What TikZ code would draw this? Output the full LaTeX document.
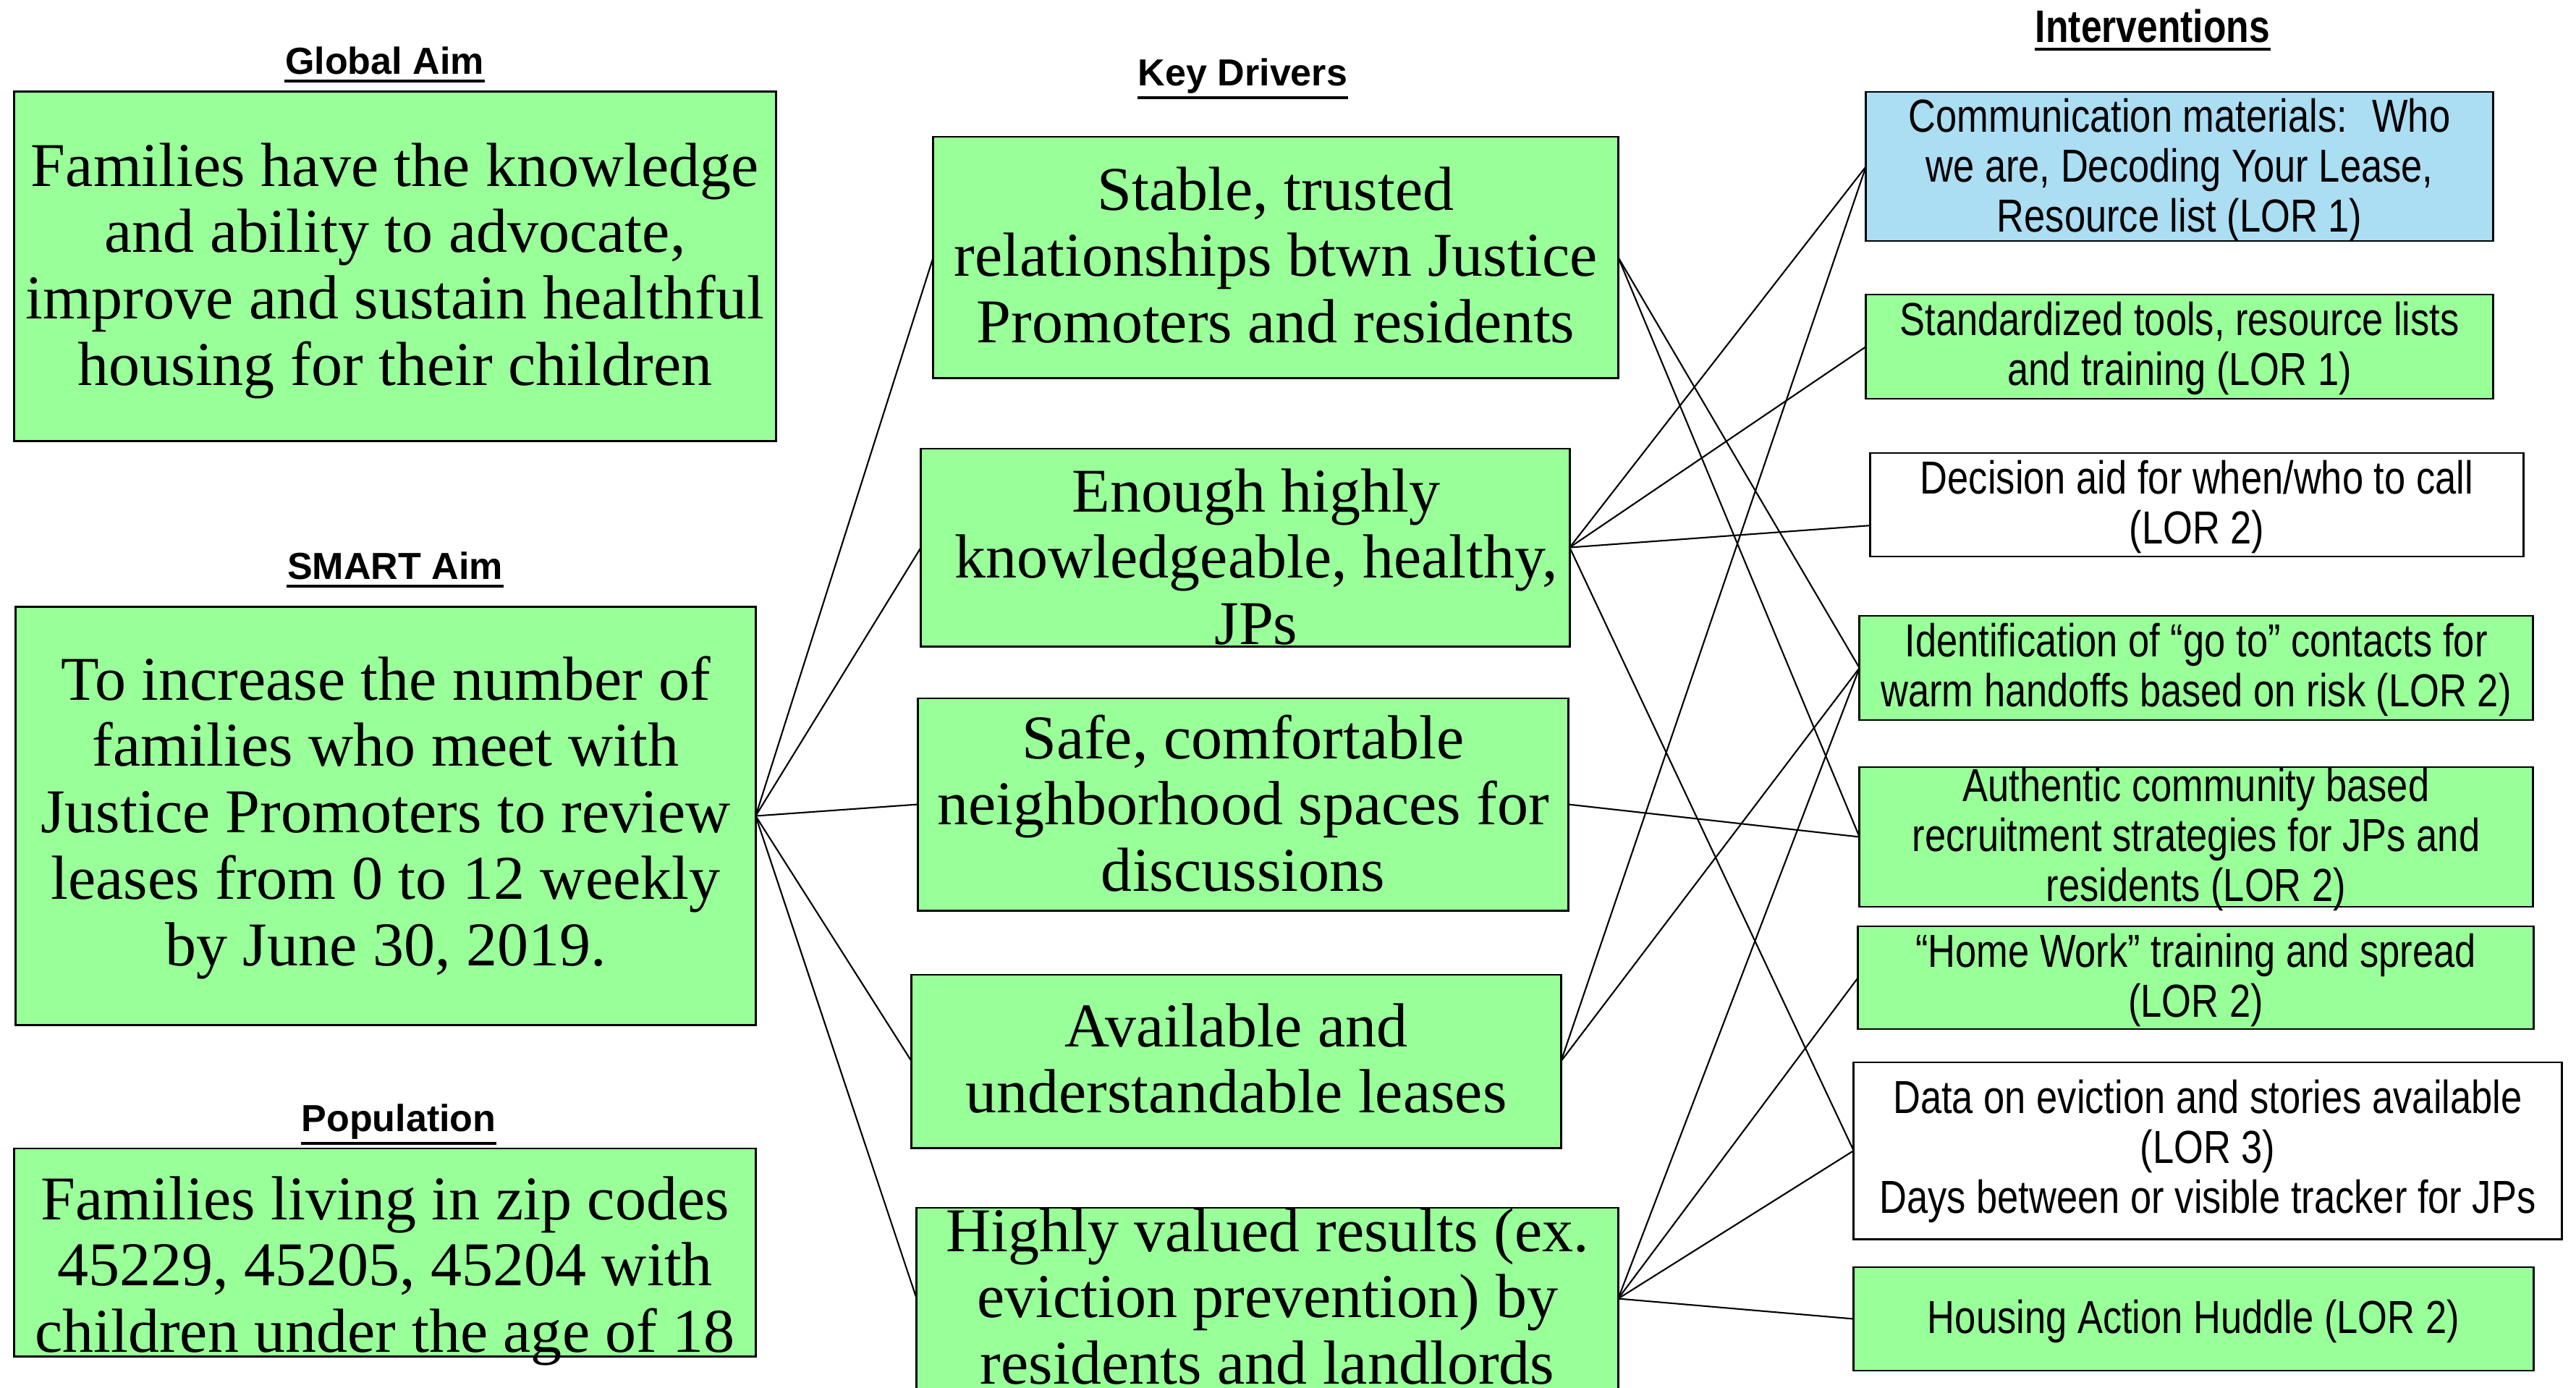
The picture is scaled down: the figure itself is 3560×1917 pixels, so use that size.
\documentclass[tikz,border=0pt]{standalone}
\usepackage{fontspec}
\setmainfont{Liberation Serif}
\newfontfamily\hsans{Liberation Sans}
\newfontfamily\nsans[FakeStretch=0.82]{Liberation Sans}
\usetikzlibrary{calc}
\definecolor{boxgreen}{RGB}{153,255,153}
\definecolor{boxblue}{RGB}{171,221,243}
\newcommand{\ctab}[1]{\begin{tabular}[t]{@{}c@{}}#1\end{tabular}}
\tikzset{
  boxbase/.style={draw=black, line width=0.8pt, inner sep=0pt, outer sep=0pt},
  greenbox/.style={boxbase, fill=boxgreen},
  bluebox/.style={boxbase, fill=boxblue},
  whitebox/.style={boxbase, fill=white},
  serifbody/.style={anchor=base, inner sep=0pt, font=\fontsize{24.47}{26.1}\selectfont},
  sansbody/.style={anchor=base, inner sep=0pt, font=\nsans\fontsize{18.2}{19.63}\selectfont},
  heading/.style={anchor=base, inner sep=0pt, font=\hsans\bfseries\fontsize{14.8}{17}\selectfont},
  narrowheading/.style={anchor=base, inner sep=0pt, font=\nsans\bfseries\fontsize{17.9}{20}\selectfont},
  uline/.style={line width=1.1pt},
  link/.style={line width=0.6pt},
}
\begin{document}
\begin{tikzpicture}[x=0.01cm, y=-0.01cm]
\clip (0,0) rectangle (3560,1917);
\useasboundingbox (0,0) rectangle (3560,1917);
\fill[white] (0,0) rectangle (3560,1917);

% ---- headings
\node[heading] (hglob) at (531.5,102) {Global Aim};
\draw[uline] ([yshift=-0.1cm]hglob.base west) -- ([yshift=-0.1cm]hglob.base east);
\node[heading] (hsmart) at (546,800) {SMART Aim};
\draw[uline] ([yshift=-0.1cm]hsmart.base west) -- ([yshift=-0.1cm]hsmart.base east);
\node[heading] (hpop) at (551,1563) {Population};
\draw[uline] ([yshift=-0.17cm]hpop.base west) -- ([yshift=-0.17cm]hpop.base east);
\node[heading] (hkd) at (1717.5,118) {Key Drivers};
\draw[uline] ([yshift=-0.17cm]hkd.base west) -- ([yshift=-0.17cm]hkd.base east);
\node[narrowheading] (hint) at (2975,58) {Interventions};
\draw[uline] ([yshift=-0.1cm]hint.base west) -- ([yshift=-0.1cm]hint.base east);

% ---- boxes
\node[greenbox, minimum width=10.52cm, minimum height=4.82cm] (glob) at (546,368) {};
\node[greenbox, minimum width=10.22cm, minimum height=5.77cm] (smart) at (533,1127.5) {};
\node[greenbox, minimum width=10.24cm, minimum height=2.87cm] (pop) at (532,1730.5) {};

\node[greenbox, minimum width=9.46cm, minimum height=3.33cm] (kd1) at (1763,355.5) {};
\node[greenbox, minimum width=8.96cm, minimum height=2.73cm] (kd2) at (1721,756.5) {};
\node[greenbox, minimum width=8.98cm, minimum height=2.93cm] (kd3) at (1718,1111.5) {};
\node[greenbox, minimum width=8.97cm, minimum height=2.39cm] (kd4) at (1708.5,1466.5) {};
\node[greenbox, minimum width=9.69cm, minimum height=2.51cm] (kd5) at (1751.5,1794.5) {};

\node[bluebox,  minimum width=8.66cm, minimum height=2.06cm] (comm) at (3012,230) {};
\node[greenbox, minimum width=8.66cm, minimum height=1.44cm] (std) at (3012,479) {};
\node[whitebox, minimum width=9.02cm, minimum height=1.43cm] (dec) at (3036,697.5) {};
\node[greenbox, minimum width=9.30cm, minimum height=1.44cm] (ident) at (3035,923) {};
\node[greenbox, minimum width=9.30cm, minimum height=1.93cm] (auth) at (3035,1156.5) {};
\node[greenbox, minimum width=9.33cm, minimum height=1.42cm] (home) at (3034.5,1351) {};
\node[whitebox, minimum width=9.78cm, minimum height=2.44cm] (data) at (3051,1590) {};
\node[greenbox, minimum width=9.39cm, minimum height=1.43cm] (huddle) at (3031.5,1822.5) {};

% ---- connectors
\draw[link] (smart.east) -- (kd1.west);
\draw[link] (smart.east) -- (kd2.west);
\draw[link] (smart.east) -- (kd3.west);
\draw[link] (smart.east) -- (kd4.west);
\draw[link] (smart.east) -- (kd5.west);

\draw[link] (kd1.east) -- (ident.west);
\draw[link] (kd1.east) -- (auth.west);

\draw[link] (kd2.east) -- (comm.west);
\draw[link] (kd2.east) -- (std.west);
\draw[link] (kd2.east) -- ($(dec.north west)!0.7!(dec.south west)$);
\draw[link] (kd2.east) -- (data.west);

\draw[link] (kd3.east) -- (auth.west);

\draw[link] (kd4.east) -- (comm.west);
\draw[link] (kd4.east) -- (ident.west);

\draw[link] (kd5.east) -- (ident.west);
\draw[link] (kd5.east) -- (home.west);
\draw[link] (kd5.east) -- (data.west);
\draw[link] (kd5.east) -- (huddle.west);

% ---- texts
\node[serifbody] (tglob) at (546,257) {\ctab{Families have the knowledge\\ and ability to advocate,\\ improve and sustain healthful\\ housing for their children}};
\node[serifbody] (tsmart) at (533,967) {\ctab{To increase the number of\\ families who meet with\\ Justice Promoters to review\\ leases from 0 to 12 weekly\\ by June 30, 2019.}};
\node[serifbody] (tpop) at (532,1685) {\ctab{Families living in zip codes\\ 45229, 45205, 45204 with\\ children under the age of 18}};

\node[serifbody] (tkd1) at (1763,290) {\ctab{Stable, trusted\\ relationships btwn Justice\\ Promoters and residents}};
\node[serifbody] (tkd2) at (1736,707) {\ctab{Enough highly\\ knowledgeable, healthy,\\ JPs}};
\node[serifbody] (tkd3) at (1718,1048) {\ctab{Safe, comfortable\\ neighborhood spaces for\\ discussions}};
\node[serifbody] (tkd4) at (1708.5,1446) {\ctab{Available and\\ understandable leases}};
\node[serifbody] (tkd5) at (1751.5,1729) {\ctab{Highly valued results (ex.\\ eviction prevention) by\\ residents and landlords}};

\node[sansbody] (tcomm) at (3012,182) {\ctab{Communication materials: \ Who\\ we are, Decoding Your Lease,\\ Resource list (LOR 1)}};
\node[sansbody] (tstd) at (3012,463) {\ctab{Standardized tools, resource lists\\ and training (LOR 1)}};
\node[sansbody] (tdec) at (3036,682) {\ctab{Decision aid for when/who to call\\ (LOR 2)}};
\node[sansbody] (tident) at (3035,907) {\ctab{Identification of “go to” contacts for\\ warm handoffs based on risk (LOR 2)}};
\node[sansbody] (tauth) at (3035,1107) {\ctab{Authentic community based\\ recruitment strategies for JPs and\\ residents (LOR 2)}};
\node[sansbody] (thome) at (3034.5,1336) {\ctab{“Home Work” training and spread\\ (LOR 2)}};
\node[sansbody] (tdata) at (3051,1538) {\ctab{Data on eviction and stories available\\ (LOR 3)\\ Days between or visible tracker for JPs}};
\node[sansbody] (thuddle) at (3031.5,1842) {\ctab{Housing Action Huddle (LOR 2)}};
\end{tikzpicture}
\end{document}
